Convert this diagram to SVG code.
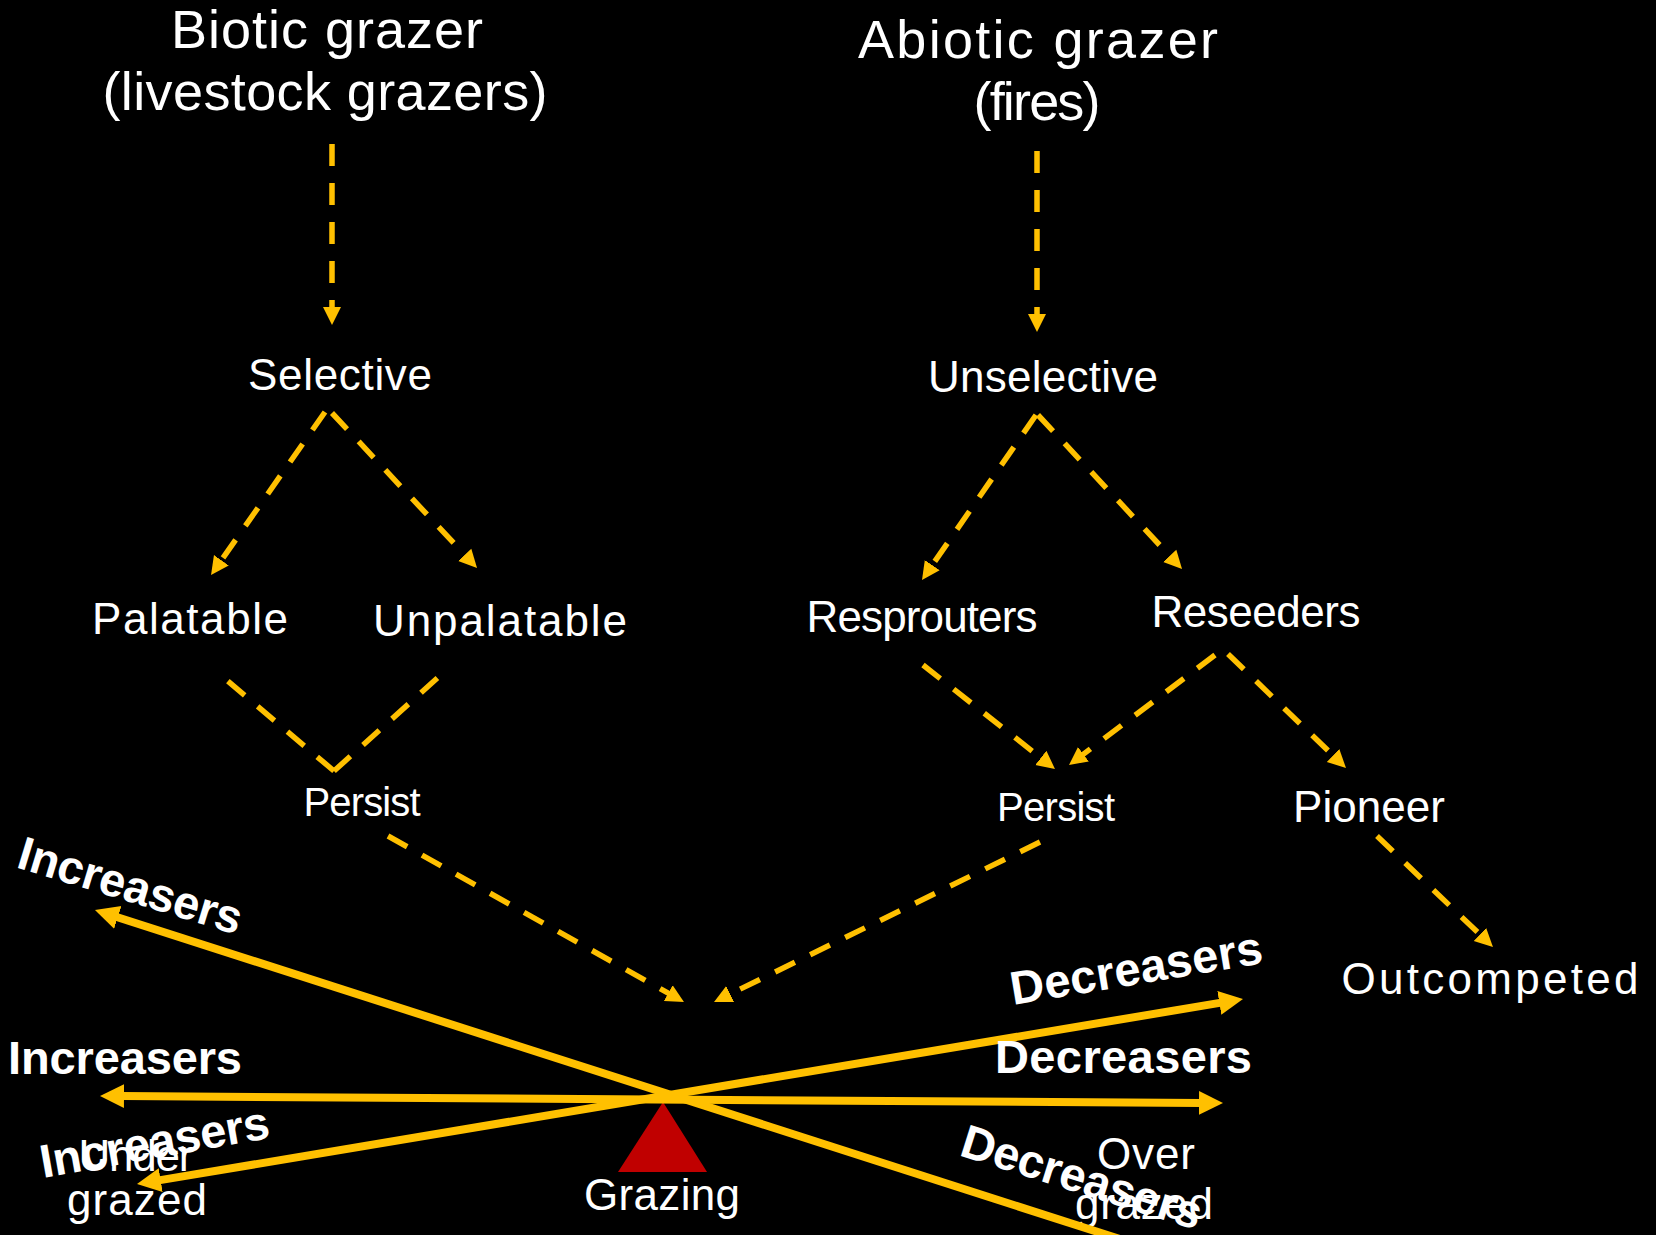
<svg xmlns="http://www.w3.org/2000/svg" width="1656" height="1235" viewBox="0 0 1656 1235">
<style>
  .t { font-family: "Liberation Sans", Arial, sans-serif; fill: #FFFFFF; }
  .title { font-size: 54px; text-anchor: middle; }
  .lbl { font-size: 44px; text-anchor: middle; }
  .sm { font-size: 40px; }
  .bold { font-size: 47px; font-weight: bold; }
  .dash { fill: none; stroke: #FFC000; stroke-width: 5.5; stroke-dasharray: 22 17; }
  .solid { fill: none; stroke: #FFC000; stroke-width: 8; }
</style>
<defs>
  <marker id="dh" viewBox="0 0 20 20" refX="2" refY="10" markerWidth="20" markerHeight="20" markerUnits="userSpaceOnUse" orient="auto">
    <path d="M0,1 L18,10 L0,19 z" fill="#FFC000"/>
  </marker>
  <marker id="sh" viewBox="0 0 26 26" refX="2" refY="13" markerWidth="26" markerHeight="26" markerUnits="userSpaceOnUse" orient="auto-start-reverse">
    <path d="M0,1 L24,13 L0,25 z" fill="#FFC000"/>
  </marker>
</defs>
<rect x="0" y="0" width="1656" height="1235" fill="#000000"/>

<g id="node-biotic">
  <text class="t title" x="327" y="48" textLength="312">Biotic grazer</text>
  <text class="t title" x="325" y="110" textLength="445">(livestock grazers)</text>
</g>
<g id="node-abiotic">
  <text class="t title" x="1038" y="58" textLength="360">Abiotic grazer</text>
  <text class="t title" x="1037" y="120" textLength="127">(fires)</text>
</g>
<g id="node-selective"><text class="t lbl" x="340" y="390" textLength="184">Selective</text></g>
<g id="node-unselective"><text class="t lbl" x="1043" y="392" textLength="230">Unselective</text></g>
<g id="node-palatable"><text class="t lbl" x="190" y="634" textLength="196">Palatable</text></g>
<g id="node-unpalatable"><text class="t lbl" x="500" y="636" textLength="254">Unpalatable</text></g>
<g id="node-persist-left"><text class="t lbl sm" x="362" y="816" textLength="117">Persist</text></g>
<g id="node-resprouters"><text class="t lbl" x="922" y="632" textLength="231">Resprouters</text></g>
<g id="node-reseeders"><text class="t lbl" x="1256" y="627" textLength="209">Reseeders</text></g>
<g id="node-persist-right"><text class="t lbl sm" x="1056" y="821" textLength="118">Persist</text></g>
<g id="node-pioneer"><text class="t lbl" x="1369" y="822" textLength="152">Pioneer</text></g>
<g id="node-outcompeted"><text class="t lbl" x="1490" y="994" textLength="297">Outcompeted</text></g>

<g id="node-grazing">
  <polygon points="663,1102 618,1172 707,1172" fill="#C00000"/>
  <text class="t lbl" x="662" y="1210" textLength="156">Grazing</text>
</g>
<g id="node-undergrazed">
  <text class="t lbl" x="136" y="1171" textLength="115">Under</text>
  <text class="t lbl" x="137" y="1215" textLength="140">grazed</text>
</g>
<g id="node-overgrazed">
  <text class="t lbl" x="1146" y="1169" textLength="98">Over</text>
  <text class="t lbl" x="1144" y="1219" textLength="138">grazed</text>
</g>

<g id="connectors">
  <path class="dash" d="M332,144 L332,309" marker-end="url(#dh)"/>
  <path class="dash" d="M1037,151 L1037,316" marker-end="url(#dh)"/>
  <path class="dash" d="M325,412 L220.2,561.9" marker-end="url(#dh)"/>
  <path class="dash" d="M332,413 L466.1,556.3" marker-end="url(#dh)"/>
  <path class="dash" d="M334,771 L217,672"/>
  <path class="dash" d="M334,771 L443,673"/>
  <path class="dash" d="M1036,415 L931.1,566.8" marker-end="url(#dh)"/>
  <path class="dash" d="M1038,415 L1171.1,557.3" marker-end="url(#dh)"/>
  <path class="dash" d="M923,665 L1042.4,759.1" marker-end="url(#dh)"/>
  <path class="dash" d="M1215,655 L1081.8,755.4" marker-end="url(#dh)"/>
  <path class="dash" d="M1228,654 L1334.5,756.9" marker-end="url(#dh)"/>
  <path class="dash" d="M388,836 L670,994.2" marker-end="url(#dh)"/>
  <path class="dash" d="M1040,842 L728.4,994.9" marker-end="url(#dh)"/>
  <path class="dash" d="M1377,836 L1481.4,935.9" marker-end="url(#dh)"/>

  <path class="solid" d="M115.9,916.7 L1214.1,1269.3" marker-start="url(#sh)" marker-end="url(#sh)"/>
  <path class="solid" d="M122,1096.1 L1201,1102.9" marker-start="url(#sh)" marker-end="url(#sh)"/>
  <path class="solid" d="M158.7,1180.4 L1221.3,1002.6" marker-start="url(#sh)" marker-end="url(#sh)"/>
</g>

<g id="labels-increasers">
  <text class="t bold" x="15" y="867" textLength="232" transform="rotate(17 15 867)">Increasers</text>
  <text class="t bold" x="8" y="1074" textLength="234">Increasers</text>
  <text class="t bold" x="43" y="1178" textLength="232" transform="rotate(-10 43 1178)">Increasers</text>
</g>
<g id="labels-decreasers">
  <text class="t bold" x="1013" y="1005" textLength="255" transform="rotate(-9.5 1013 1005)">Decreasers</text>
  <text class="t bold" x="995" y="1073" textLength="257">Decreasers</text>
  <text class="t bold" x="958" y="1155" textLength="250" transform="rotate(17.5 958 1155)">Decreasers</text>
</g>
</svg>
